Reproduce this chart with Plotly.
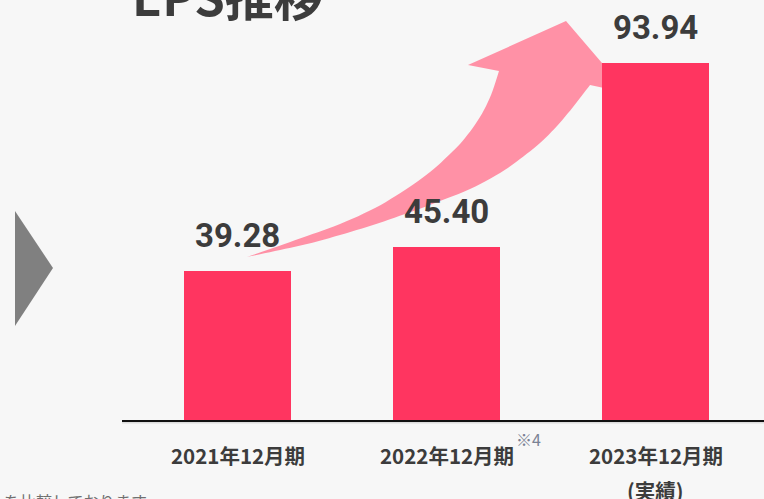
import plotly.graph_objects as go

# データ
periods = ["2021年12月期", "2022年12月期", "2023年12月期"]
eps = [39.28, 45.40, 93.94]
eps_labels = ["39.28", "45.40", "93.94"]
period_labels = ["2021年12月期", "2022年12月期", "2023年12月期"]
period_sub = ["", "", "(実績)"]

BG = "#f7f7f7"
BAR = "#ff3560"
ARROW = "#ff91a6"
TXT = "#3c3c3c"
FONT = "Noto Sans CJK JP"

W, H = 764, 499
L, B = 122, 79
PW, PH = W - L, H - B


def px(x, y):
    # ピクセル座標 -> paper座標
    return (x - L) / PW, (PH - y) / PH


def smooth(pts, n=6):
    # Catmull-Rom で点列をなめらかに
    out = []
    for i in range(len(pts) - 1):
        p0 = pts[max(i - 1, 0)]
        p1, p2 = pts[i], pts[i + 1]
        p3 = pts[min(i + 2, len(pts) - 1)]
        for k in range(n):
            t = k / n
            t2, t3 = t * t, t * t * t
            out.append(tuple(
                0.5 * (2 * p1[j] + (-p0[j] + p2[j]) * t
                       + (2 * p0[j] - 5 * p1[j] + 4 * p2[j] - p3[j]) * t2
                       + (-p0[j] + 3 * p1[j] - 3 * p2[j] + p3[j]) * t3)
                for j in range(2)))
    out.append(pts[-1])
    return out


def path_from(points):
    s = ""
    for i, (x, y) in enumerate(points):
        u, v = px(x, y)
        s += ("M" if i == 0 else "L") + f"{u:.4f},{v:.4f} "
    return s + "Z"


fig = go.Figure()

fig.add_trace(go.Bar(
    x=periods, y=eps,
    marker=dict(color=BAR, line=dict(width=0)),
    width=0.512,
    hoverinfo="skip",
))

# 曲線矢印(装飾)
upper = [(247, 257), (273, 248), (307, 236), (340, 224), (375, 208), (405, 190),
         (430, 172), (450, 154), (465, 138), (480, 117), (491, 95), (499, 71)]
head = [(468, 65), (566, 21), (608, 70), (604, 88)]
lower = [(590, 85), (573, 107), (557, 126), (540, 143), (520, 159), (500, 173),
         (470, 189), (435, 203), (405, 214), (373, 225), (340, 235), (307, 244),
         (275, 251), (247, 257)]
arrow_pts = smooth(upper) + head + smooth(lower)[:-1]
tri_pts = [(15, 211), (53, 268), (15, 326)]

shapes = [
    dict(type="path", xref="paper", yref="paper", path=path_from(arrow_pts),
         fillcolor=ARROW, line=dict(width=0), layer="below"),
    dict(type="path", xref="paper", yref="paper", path=path_from(tri_pts),
         fillcolor="#808080", line=dict(width=0), layer="above"),
    # 軸の影
    dict(type="line", xref="paper", yref="paper",
         x0=0, x1=1, y0=px(0, 422.5)[1], y1=px(0, 422.5)[1],
         line=dict(color="#dcdcdc", width=2), layer="below"),
]

annotations = []
for p, v, t in zip(periods, eps, eps_labels):
    annotations.append(dict(x=p, y=v, xref="x", yref="y", text=t, showarrow=False,
                            yanchor="bottom", yshift=14,
                            font=dict(family="Roboto", size=33, color=TXT, weight="bold")))

for p, t, s in zip(periods, period_labels, period_sub):
    annotations.append(dict(x=p, xref="x", yref="paper", y=px(0, 455)[1], text=t,
                            showarrow=False, yanchor="middle",
                            font=dict(family=FONT, size=20.5, color=TXT, weight="bold")))
    if s:
        annotations.append(dict(x=p, xref="x", yref="paper", y=px(0, 490)[1], text=s,
                                showarrow=False, yanchor="middle",
                                font=dict(family=FONT, size=20.5, color=TXT, weight="bold")))

annotations.append(dict(x=px(528, 0)[0], y=px(0, 439)[1], xref="paper", yref="paper",
                        text="※4", showarrow=False, yanchor="middle",
                        font=dict(family=FONT, size=16, color="#7a8294")))

annotations.append(dict(x=px(130, 0)[0], y=px(0, 32)[1], xref="paper", yref="paper",
                        text="EPS推移", showarrow=False, xanchor="left", yanchor="bottom",
                        font=dict(family=FONT, size=49, color=TXT, weight="bold")))

annotations.append(dict(x=px(2, 0)[0], y=px(0, 487)[1], xref="paper", yref="paper",
                        text="を比較しております", showarrow=False, xanchor="left", yanchor="top",
                        font=dict(family=FONT, size=16, color="#707070")))

fig.update_layout(
    width=W, height=H, autosize=False,
    margin=dict(l=L, r=0, t=0, b=B),
    paper_bgcolor=BG, plot_bgcolor=BG,
    showlegend=False,
    bargap=0,
    xaxis=dict(range=[-0.5526, 2.519], showticklabels=False, ticks="",
               showgrid=False, zeroline=False,
               showline=True, linecolor="#111111", linewidth=2),
    yaxis=dict(range=[0, 110.5], visible=False, showgrid=False, zeroline=False),
    shapes=shapes,
    annotations=annotations,
)

fig.write_html("out.html", config={"displayModeBar": False},
               post_script="document.body.style.margin='0';")
